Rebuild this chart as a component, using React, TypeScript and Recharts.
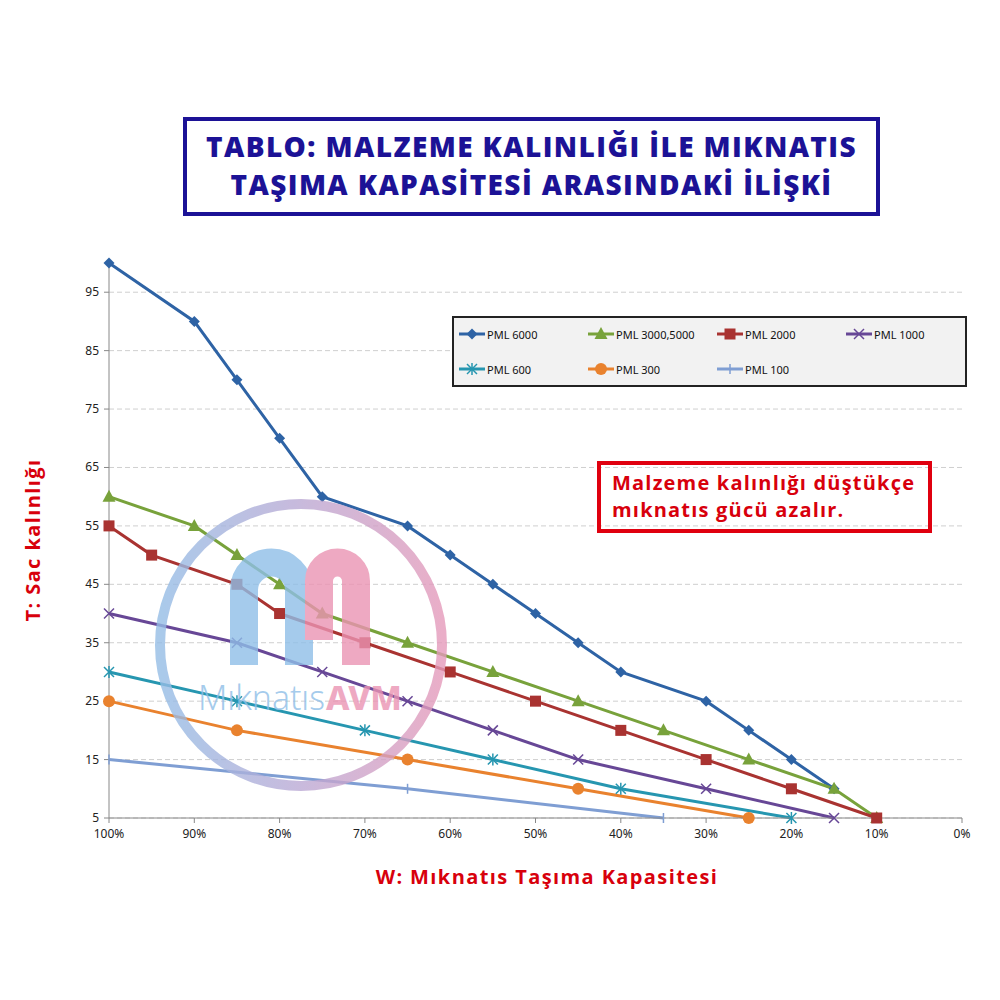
import React from "react"
import { CartesianGrid, Line, LineChart, XAxis, YAxis } from "recharts"

// W (carrying capacity, %) and T (sheet thickness) per magnet model
const pml6000W = [100, 90, 85, 80, 75, 65, 60, 55, 50, 45, 40, 30, 25, 20, 15]
const pml6000T = [100, 90, 80, 70, 60, 55, 50, 45, 40, 35, 30, 25, 20, 15, 10]
const pml3000W = [100, 90, 85, 80, 75, 65, 55, 45, 35, 25, 15, 10]
const pml3000T = [60, 55, 50, 45, 40, 35, 30, 25, 20, 15, 10, 5]
const pml2000W = [100, 95, 85, 80, 70, 60, 50, 40, 30, 20, 10]
const pml2000T = [55, 50, 45, 40, 35, 30, 25, 20, 15, 10, 5]
const pml1000W = [100, 85, 75, 65, 55, 45, 30, 15]
const pml1000T = [40, 35, 30, 25, 20, 15, 10, 5]
const pml600W = [100, 85, 70, 55, 40, 20]
const pml600T = [30, 25, 20, 15, 10, 5]
const pml300W = [100, 85, 65, 45, 25]
const pml300T = [25, 20, 15, 10, 5]
const pml100W = [100, 65, 35]
const pml100T = [15, 10, 5]

const xTicks = [0, 10, 20, 30, 40, 50, 60, 70, 80, 90, 100]
const yTicks = [5, 15, 25, 35, 45, 55, 65, 75, 85, 95]

type Marker = "diamond" | "triangle" | "square" | "cross" | "star" | "circle" | "plus"

const series: { name: string; color: string; marker: Marker; w: number[]; t: number[] }[] = [
  { name: "PML 6000", color: "#2e63a5", marker: "diamond", w: pml6000W, t: pml6000T },
  { name: "PML 3000,5000", color: "#78a23b", marker: "triangle", w: pml3000W, t: pml3000T },
  { name: "PML 2000", color: "#a93331", marker: "square", w: pml2000W, t: pml2000T },
  { name: "PML 1000", color: "#674796", marker: "cross", w: pml1000W, t: pml1000T },
  { name: "PML 600", color: "#2696b0", marker: "star", w: pml600W, t: pml600T },
  { name: "PML 300", color: "#e9822e", marker: "circle", w: pml300W, t: pml300T },
  { name: "PML 100", color: "#7f9ed3", marker: "plus", w: pml100W, t: pml100T },
]

const zip = (w: number[], t: number[]) => w.map((v, i) => ({ w: v, t: t[i] }))

const tickFont = "'Noto Sans', sans-serif"

function XTick({ x, y, payload }: any) {
  return (
    <text x={x} y={y + 13} textAnchor="middle" fontSize={12} fontFamily={tickFont} fill="#222">
      {`${payload.value}%`}
    </text>
  )
}

function YTick({ x, y, payload }: any) {
  return (
    <text x={x - 3} y={y + 4} textAnchor="end" fontSize={12} fontFamily={tickFont} fill="#222">
      {payload.value}
    </text>
  )
}

function MarkerShape({ kind, cx, cy, color }: { kind: Marker; cx: number; cy: number; color: string }) {
  switch (kind) {
    case "diamond":
      return <polygon points={`${cx},${cy - 5.5} ${cx + 5.5},${cy} ${cx},${cy + 5.5} ${cx - 5.5},${cy}`} fill={color} />
    case "triangle":
      return <polygon points={`${cx},${cy - 7} ${cx + 6.5},${cy + 5} ${cx - 6.5},${cy + 5}`} fill={color} />
    case "square":
      return <rect x={cx - 5.5} y={cy - 5.5} width={11} height={11} fill={color} />
    case "cross":
      return (
        <g stroke={color} strokeWidth={1.5}>
          <line x1={cx - 5} y1={cy - 5} x2={cx + 5} y2={cy + 5} />
          <line x1={cx - 5} y1={cy + 5} x2={cx + 5} y2={cy - 5} />
        </g>
      )
    case "star":
      return (
        <g stroke={color} strokeWidth={1.5}>
          <line x1={cx - 5} y1={cy - 5} x2={cx + 5} y2={cy + 5} />
          <line x1={cx - 5} y1={cy + 5} x2={cx + 5} y2={cy - 5} />
          <line x1={cx} y1={cy - 6} x2={cx} y2={cy + 6} />
        </g>
      )
    case "circle":
      return <circle cx={cx} cy={cy} r={6} fill={color} />
    case "plus":
      return (
        <g stroke={color} strokeWidth={1.5}>
          <line x1={cx} y1={cy - 5} x2={cx} y2={cy + 5} />
        </g>
      )
  }
}

function LegendBox() {
  return (
    <div
      style={{
        position: "absolute",
        left: 452,
        top: 316,
        width: 515,
        height: 71,
        boxSizing: "border-box",
        background: "#f2f2f2",
        border: "2px solid #222",
        fontFamily: tickFont,
        fontSize: 11,
        color: "#111",
      }}
    >
      {series.map((s, i) => {
        const col = i < 4 ? i : i - 4
        const row = i < 4 ? 0 : 1
        return (
          <div
            key={s.name}
            style={{ position: "absolute", left: 4 + col * 129, top: 7 + row * 35, display: "flex", alignItems: "center", height: 18 }}
          >
            <svg width={28} height={14}>
              <line x1={1} y1={7} x2={27} y2={7} stroke={s.color} strokeWidth={3} />
              <MarkerShape kind={s.marker} cx={14} cy={7} color={s.color} />
            </svg>
            <span style={{ marginLeft: 1 }}>{s.name}</span>
          </div>
        )
      })}
    </div>
  )
}

function Watermark() {
  return (
    <svg width={1000} height={1000} style={{ position: "absolute", left: 0, top: 0, pointerEvents: "none" }}>
      <defs>
        <linearGradient id="ring" x1="0" y1="0" x2="1" y2="0">
          <stop offset="0" stopColor="#95bde6" />
          <stop offset="0.5" stopColor="#bba9d4" />
          <stop offset="1" stopColor="#e59bbb" />
        </linearGradient>
      </defs>
      <g opacity={0.8}>
        <circle cx={301} cy={645} r={141} fill="none" stroke="url(#ring)" strokeWidth={10} />
        <path d="M 244 665 V 590 A 27.5 27.5 0 0 1 299 590 V 665" fill="none" stroke="#8fbfe8" strokeWidth={28} />
        <path d="M 319 640 V 581 A 18.5 18.5 0 0 1 356 581 V 665" fill="none" stroke="#eb94b3" strokeWidth={28} />
        <text x={198} y={710} fontFamily={tickFont} fontSize={34} fontWeight={300} fill="#8fbfe8" textLength={127} lengthAdjust="spacingAndGlyphs">
          Mıknatıs
        </text>
        <text x={326} y={710} fontFamily={tickFont} fontSize={34} fontWeight={800} fill="#eb94b3" textLength={76} lengthAdjust="spacingAndGlyphs">
          AVM
        </text>
      </g>
    </svg>
  )
}

export default function App() {
  return (
    <div style={{ position: "absolute", left: 0, top: 0, width: 1000, height: 1000, background: "#fff", fontFamily: "'Open Sans', sans-serif" }}>
      <div
        style={{
          position: "absolute",
          left: 183,
          top: 117,
          width: 697,
          height: 99,
          boxSizing: "border-box",
          border: "4px solid #1c1296",
          color: "#1c1296",
          fontSize: 28,
          fontWeight: 800,
          lineHeight: "38px",
          letterSpacing: "1.4px",
          textAlign: "center",
          paddingTop: 6,
        }}
      >
        TABLO: MALZEME KALINLIĞI İLE MIKNATIS
        <br />
        TAŞIMA KAPASİTESİ ARASINDAKİ İLİŞKİ
      </div>

      <LineChart width={1000} height={1000} margin={{ top: 263, right: 38, left: 69, bottom: 152 }}>
        <CartesianGrid vertical={false} syncWithTicks stroke="#cfcfcf" strokeDasharray="5 3" />
        <XAxis
          type="number"
          dataKey="w"
          domain={[0, 100]}
          reversed
          ticks={xTicks}
          interval={0}
          height={30}
          tick={<XTick />}
          tickSize={5}
          stroke="#888"
          allowDuplicatedCategory={false}
        />
        <YAxis
          type="number"
          domain={[5, 100]}
          ticks={yTicks}
          interval={0}
          width={40}
          tick={<YTick />}
          tickSize={5}
          stroke="#888"
        />
        {series.map((s) => (
          <Line
            key={s.name}
            name={s.name}
            data={zip(s.w, s.t)}
            dataKey="t"
            type="linear"
            stroke={s.color}
            strokeWidth={3}
            isAnimationActive={false}
            dot={(p: any) => (
              <MarkerShape key={`${s.name}-${p.index}`} kind={s.marker} cx={p.cx} cy={p.cy} color={s.color} />
            )}
            activeDot={false}
          />
        ))}
      </LineChart>

      <LegendBox />
      <Watermark />

      <div
        style={{
          position: "absolute",
          left: 597,
          top: 461,
          width: 335,
          height: 72,
          boxSizing: "border-box",
          border: "4px solid #e0000f",
          color: "#d8000c",
          fontSize: 20,
          fontWeight: 700,
          lineHeight: "27px",
          letterSpacing: "1.2px",
          paddingLeft: 11,
          paddingTop: 4,
          whiteSpace: "nowrap",
        }}
      >
        Malzeme kalınlığı düştükçe
        <br />
        mıknatıs gücü azalır.
      </div>

      <div
        style={{
          position: "absolute",
          left: 297,
          top: 862,
          width: 500,
          textAlign: "center",
          color: "#d8000c",
          fontSize: 20,
          fontWeight: 700,
          lineHeight: "30px",
          letterSpacing: "1.4px",
        }}
      >
        W: Mıknatıs Taşıma Kapasitesi
      </div>
      <div
        style={{
          position: "absolute",
          left: 33 - 100,
          top: 540 - 15,
          width: 200,
          textAlign: "center",
          color: "#d8000c",
          fontSize: 20,
          fontWeight: 700,
          lineHeight: "30px",
          letterSpacing: "1.4px",
          transform: "rotate(-90deg)",
        }}
      >
        T: Sac kalınlığı
      </div>
    </div>
  )
}
